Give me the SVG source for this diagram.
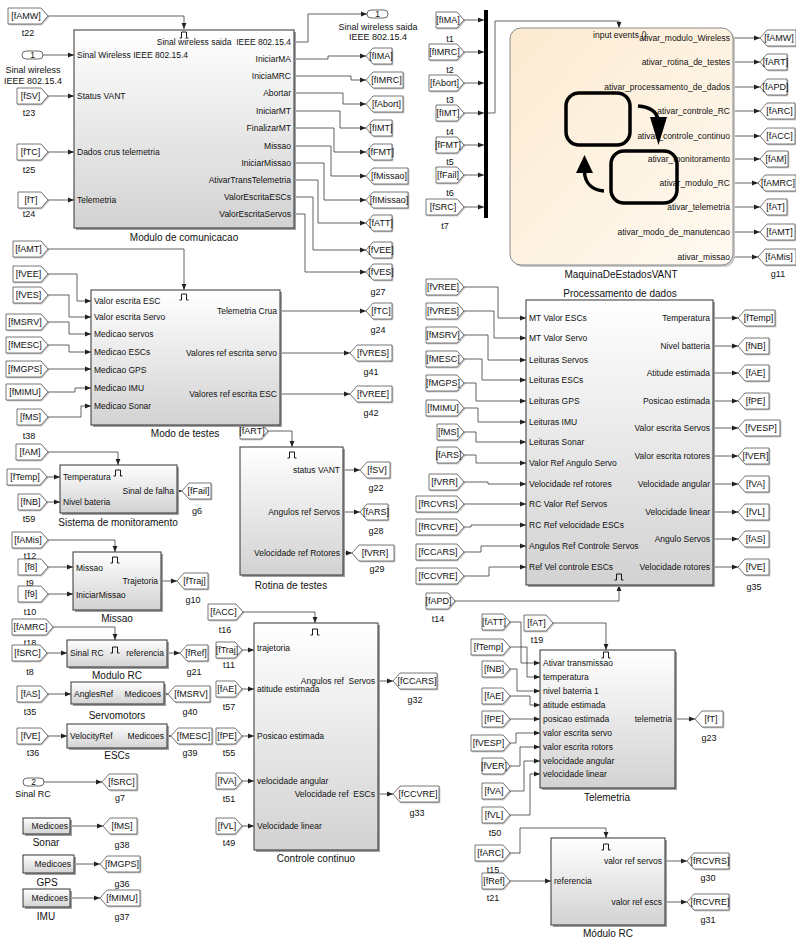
<svg xmlns="http://www.w3.org/2000/svg" width="796" height="939" viewBox="0 0 796 939">
<defs>
<linearGradient id="gb" x1="0" y1="0" x2="0" y2="1"><stop offset="0" stop-color="#ffffff"/><stop offset="1" stop-color="#d2d2d2"/></linearGradient>
<linearGradient id="gs" x1="0" y1="0" x2="1" y2="1"><stop offset="0" stop-color="#fcead0"/><stop offset="1" stop-color="#fffaf2"/></linearGradient>
<marker id="a" viewBox="0 0 6 6" refX="6" refY="3" markerWidth="6" markerHeight="6" markerUnits="userSpaceOnUse" orient="auto"><path d="M0,0.6 L6,3 L0,5.4z" fill="#222"/></marker>
<path id="trg" d="M-4.5,3 h2 v-6 h5 v6 h2" fill="none" stroke="#000" stroke-width="0.9"/>
</defs>
<style>
text{font-family:"Liberation Sans",Arial,sans-serif;dominant-baseline:central;fill:#111}
.pl{font-size:8.5px}
.pr{font-size:8.5px;text-anchor:end}
.tt{font-size:10px;text-anchor:middle}
.tg{font-size:9px;text-anchor:middle}
.lb{font-size:9px;text-anchor:middle}
.blk{fill:url(#gb);stroke:#333;stroke-width:1}
.sh{fill:#a0a0a0}
.tag{fill:#fff;stroke:#555;stroke-width:0.8;filter:drop-shadow(1px 1px 0px #c4c4c4)}
.prt{fill:#fff;stroke:#444;stroke-width:0.8}
.w{fill:none;stroke:#3a3a3a;stroke-width:0.8;marker-end:url(#a)}
.ic{fill:none;stroke:#000;stroke-width:3.5}
</style>

<!-- ============ FROM TAGS LEFT COLUMN ============ -->
<g id="from_fAMW_t22"><polygon class="tag" points="8,8 41,8 48,16 41,24 8,24"/><text class="tg" x="26" y="16">[fAMW]</text><text class="lb" x="28" y="33">t22</text></g>
<g id="inport_1"><rect class="prt" x="22" y="51" width="21" height="8" rx="4"/><text class="pl" x="32.5" y="55" text-anchor="middle">1</text><text class="lb" x="33" y="70">Sinal wireless</text><text class="lb" x="33" y="81">IEEE 802.15.4</text></g>
<g id="from_fSV_t23"><polygon class="tag" points="17,88 41,88 48,96 41,104 17,104"/><text class="tg" x="30.5" y="96">[fSV]</text><text class="lb" x="29" y="113">t23</text></g>
<g id="from_fTC_t25"><polygon class="tag" points="17,144 41,144 48,152 41,160 17,160"/><text class="tg" x="30.5" y="152">[fTC]</text><text class="lb" x="29" y="170">t25</text></g>
<g id="from_fT_t24"><polygon class="tag" points="18,192 41,192 48,200 41,208 18,208"/><text class="tg" x="31" y="200">[fT]</text><text class="lb" x="29" y="214">t24</text></g>

<g id="from_fAMT"><polygon class="tag" points="13,241 41,241 48,249 41,257 13,257"/><text class="tg" x="28.5" y="249">[fAMT]</text></g>
<g id="from_fVEE"><polygon class="tag" points="13,266 41,266 48,274 41,282 13,282"/><text class="tg" x="28.5" y="274">[fVEE]</text></g>
<g id="from_fVES"><polygon class="tag" points="13,287 41,287 48,295 41,303 13,303"/><text class="tg" x="28.5" y="295">[fVES]</text></g>
<g id="from_fMSRV"><polygon class="tag" points="6,314 41,314 48,322 41,330 6,330"/><text class="tg" x="25" y="322">[fMSRV]</text></g>
<g id="from_fMESC"><polygon class="tag" points="6,337 41,337 48,345 41,353 6,353"/><text class="tg" x="25" y="345">[fMESC]</text></g>
<g id="from_fMGPS"><polygon class="tag" points="6,361 41,361 48,369 41,377 6,377"/><text class="tg" x="25" y="369">[fMGPS]</text></g>
<g id="from_fMIMU"><polygon class="tag" points="6,384 41,384 48,392 41,400 6,400"/><text class="tg" x="25" y="392">[fMIMU]</text></g>
<g id="from_fMS_t38"><polygon class="tag" points="17,409 41,409 48,417 41,425 17,425"/><text class="tg" x="30.5" y="417">[fMS]</text><text class="lb" x="29" y="436">t38</text></g>
<g id="from_fAM"><polygon class="tag" points="16,444 41,444 48,452 41,460 16,460"/><text class="tg" x="30" y="452">[fAM]</text></g>
<g id="from_fTemp"><polygon class="tag" points="7,469 40,469 47,477 40,485 7,485"/><text class="tg" x="25" y="477">[fTemp]</text></g>
<g id="from_fNB_t59"><polygon class="tag" points="18,494 40,494 47,502 40,510 18,510"/><text class="tg" x="30.5" y="502">[fNB]</text><text class="lb" x="29" y="519">t59</text></g>
<g id="from_fAMis_t12"><polygon class="tag" points="12,532 41,532 48,540 41,548 12,548"/><text class="tg" x="28" y="540">[fAMis]</text><text class="lb" x="30" y="556">t12</text></g>
<g id="from_f8_t9"><polygon class="tag" points="18,559 41,559 48,567 41,575 18,575"/><text class="tg" x="31" y="567">[f8]</text><text class="lb" x="30" y="583">t9</text></g>
<g id="from_f9_t10"><polygon class="tag" points="18,586 41,586 48,594 41,602 18,602"/><text class="tg" x="31" y="594">[f9]</text><text class="lb" x="30" y="612">t10</text></g>
<g id="from_fAMRC_t18"><polygon class="tag" points="12,619 46,619 53,627 46,635 12,635"/><text class="tg" x="30.5" y="627">[fAMRC]</text><text class="lb" x="30" y="643">t18</text></g>
<g id="from_fSRC_t8"><polygon class="tag" points="12,645 40,645 47,653 40,661 12,661"/><text class="tg" x="27.5" y="653">[fSRC]</text><text class="lb" x="30" y="672">t8</text></g>
<g id="from_fAS_t35"><polygon class="tag" points="17,686 41,686 48,694 41,702 17,702"/><text class="tg" x="30.5" y="694">[fAS]</text><text class="lb" x="30" y="712">t35</text></g>
<g id="from_fVE_t36"><polygon class="tag" points="17,728 41,728 48,736 41,744 17,744"/><text class="tg" x="30.5" y="736">[fVE]</text><text class="lb" x="33" y="753">t36</text></g>
<g id="inport_2"><rect class="prt" x="23" y="778" width="21" height="8" rx="4"/><text class="pl" x="33.5" y="782" text-anchor="middle">2</text><text class="lb" x="33" y="794">Sinal RC</text></g>

<!-- ============ MIDDLE FROM TAGS ============ -->
<g id="from_fART"><polygon class="tag" points="240,423 261,423 268,431 261,439 240,439"/><text class="tg" x="252" y="431">[fART]</text></g>
<g id="from_fACC_t16"><polygon class="tag" points="208,604 236,604 243,612 236,620 208,620"/><text class="tg" x="223.5" y="612">[fACC]</text><text class="lb" x="225" y="630">t16</text></g>
<g id="from_fTraj_t11"><polygon class="tag" points="216,642 235,642 242,650 235,658 216,658"/><text class="tg" x="227" y="650">[fTraj]</text><text class="lb" x="229" y="665">t11</text></g>
<g id="from_fAE_t57"><polygon class="tag" points="216,681 235,681 242,689 235,697 216,697"/><text class="tg" x="227" y="689">[fAE]</text><text class="lb" x="229" y="707">t57</text></g>
<g id="from_fPE_t55"><polygon class="tag" points="216,728 235,728 242,736 235,744 216,744"/><text class="tg" x="227" y="736">[fPE]</text><text class="lb" x="229" y="753">t55</text></g>
<g id="from_fVA_t51"><polygon class="tag" points="216,773 235,773 242,781 235,789 216,789"/><text class="tg" x="227" y="781">[fVA]</text><text class="lb" x="229" y="799">t51</text></g>
<g id="from_fVL_t49"><polygon class="tag" points="216,818 235,818 242,826 235,834 216,834"/><text class="tg" x="227" y="826">[fVL]</text><text class="lb" x="229" y="843">t49</text></g>

<!-- ============ MUX FROM TAGS ============ -->
<g id="from_fIMA_t1"><polygon class="tag" points="436,12 457,12 464,20 457,28 436,28"/><text class="tg" x="448" y="20">[fIMA]</text><text class="lb" x="450" y="39">t1</text></g>
<g id="from_fIMRC_t2"><polygon class="tag" points="429,44 457,44 464,52 457,60 429,60"/><text class="tg" x="444.5" y="52">[fIMRC]</text><text class="lb" x="450" y="70">t2</text></g>
<g id="from_fAbort_t3"><polygon class="tag" points="429,75 457,75 464,83 457,91 429,91"/><text class="tg" x="444.5" y="83">[fAbort]</text><text class="lb" x="450" y="100">t3</text></g>
<g id="from_fIMT_t4"><polygon class="tag" points="436,105 457,105 464,113 457,121 436,121"/><text class="tg" x="448" y="113">[fIMT]</text><text class="lb" x="450" y="132">t4</text></g>
<g id="from_fFMT_t5"><polygon class="tag" points="436,137 457,137 464,145 457,153 436,153"/><text class="tg" x="448" y="145">[fFMT]</text><text class="lb" x="450" y="162">t5</text></g>
<g id="from_fFail_t6"><polygon class="tag" points="436,167 457,167 464,175 457,183 436,183"/><text class="tg" x="448" y="175">[fFail]</text><text class="lb" x="450" y="193">t6</text></g>
<g id="from_fSRC_t7"><polygon class="tag" points="426,199 457,199 464,207 457,215 426,215"/><text class="tg" x="443" y="207">[fSRC]</text><text class="lb" x="445" y="226">t7</text></g>
<g id="mux"><rect x="484" y="10" width="4" height="208" fill="#000"/></g>

<!-- ============ PROC FROM TAGS ============ -->
<g id="from_fVREE_p"><polygon class="tag" points="426,279 457,279 464,287 457,295 426,295"/><text class="tg" x="443" y="287">[fVREE]</text></g>
<g id="from_fVRES_p"><polygon class="tag" points="426,303 457,303 464,311 457,319 426,319"/><text class="tg" x="443" y="311">[fVRES]</text></g>
<g id="from_fMSRV_p"><polygon class="tag" points="426,327 457,327 464,335 457,343 426,343"/><text class="tg" x="443" y="335">[fMSRV]</text></g>
<g id="from_fMESC_p"><polygon class="tag" points="426,351 457,351 464,359 457,367 426,367"/><text class="tg" x="443" y="359">[fMESC]</text></g>
<g id="from_fMGPS_p"><polygon class="tag" points="426,375 457,375 464,383 457,391 426,391"/><text class="tg" x="443" y="383">[fMGPS]</text></g>
<g id="from_fMIMU_p"><polygon class="tag" points="426,400 457,400 464,408 457,416 426,416"/><text class="tg" x="443" y="408">[fMIMU]</text></g>
<g id="from_fMS_p"><polygon class="tag" points="437,424 457,424 464,432 457,440 437,440"/><text class="tg" x="448.5" y="432">[fMS]</text></g>
<g id="from_fARS_p"><polygon class="tag" points="437,447 457,447 464,455 457,463 437,463"/><text class="tg" x="448.5" y="455">[fARS]</text></g>
<g id="from_fVRR_p"><polygon class="tag" points="429,474 457,474 464,482 457,490 429,490"/><text class="tg" x="444.5" y="482">[fVRR]</text></g>
<g id="from_fRCVRS_p"><polygon class="tag" points="416,496 457,496 464,504 457,512 416,512"/><text class="tg" x="438" y="504">[fRCVRS]</text></g>
<g id="from_fRCVRE_p"><polygon class="tag" points="416,519 457,519 464,527 457,535 416,535"/><text class="tg" x="438" y="527">[fRCVRE]</text></g>
<g id="from_fCCARS_p"><polygon class="tag" points="416,544 457,544 464,552 457,560 416,560"/><text class="tg" x="438" y="552">[fCCARS]</text></g>
<g id="from_fCCVRE_p"><polygon class="tag" points="416,568 457,568 464,576 457,584 416,584"/><text class="tg" x="438" y="576">[fCCVRE]</text></g>
<g id="from_fAPD_t14"><polygon class="tag" points="426,593 448,593 455,601 448,609 426,609"/><text class="tg" x="438.5" y="601">[fAPD]</text><text class="lb" x="438" y="619">t14</text></g>

<!-- ============ TELEMETRIA FROM TAGS ============ -->
<g id="from_fAT_t19"><polygon class="tag" points="524,615 546,615 553,623 546,631 524,631"/><text class="tg" x="536.5" y="623">[fAT]</text><text class="lb" x="537" y="640">t19</text></g>
<g id="from_fATT_tl"><polygon class="tag" points="482,614 503,614 510,622 503,630 482,630"/><text class="tg" x="494" y="622">[fATT]</text></g>
<g id="from_fTemp_tl"><polygon class="tag" points="471,639 503,639 510,647 503,655 471,655"/><text class="tg" x="488.5" y="647">[fTemp]</text></g>
<g id="from_fNB_tl"><polygon class="tag" points="482,661 503,661 510,669 503,677 482,677"/><text class="tg" x="494" y="669">[fNB]</text></g>
<g id="from_fAE_tl"><polygon class="tag" points="482,688 503,688 510,696 503,704 482,704"/><text class="tg" x="494" y="696">[fAE]</text></g>
<g id="from_fPE_tl"><polygon class="tag" points="482,711 503,711 510,719 503,727 482,727"/><text class="tg" x="494" y="719">[fPE]</text></g>
<g id="from_fVESP_tl"><polygon class="tag" points="471,735 503,735 510,743 503,751 471,751"/><text class="tg" x="488.5" y="743">[fVESP]</text></g>
<g id="from_fVER_tl"><polygon class="tag" points="482,758 503,758 510,766 503,774 482,774"/><text class="tg" x="494" y="766">[fVER]</text></g>
<g id="from_fVA_tl"><polygon class="tag" points="482,783 503,783 510,791 503,799 482,799"/><text class="tg" x="494" y="791">[fVA]</text></g>
<g id="from_fVL_t50"><polygon class="tag" points="482,807 503,807 510,815 503,823 482,823"/><text class="tg" x="494" y="815">[fVL]</text><text class="lb" x="495" y="833">t50</text></g>
<g id="from_fARC_t15"><polygon class="tag" points="475,845 503,845 510,853 503,861 475,861"/><text class="tg" x="490.5" y="853">[fARC]</text><text class="lb" x="493" y="870">t15</text></g>
<g id="from_fRef_t21"><polygon class="tag" points="482,873 503,873 510,881 503,889 482,889"/><text class="tg" x="494" y="881">[fRef]</text><text class="lb" x="493" y="898">t21</text></g>

<!-- ============ GOTO TAGS ============ -->
<g id="outport_1"><rect class="prt" x="367" y="10" width="21" height="8" rx="4"/><text class="pl" x="377.5" y="14" text-anchor="middle">1</text><text class="lb" x="378" y="27">Sinal wireless saida</text><text class="lb" x="378" y="37">IEEE 802.15.4</text></g>
<g id="goto_fIMA"><polygon class="tag" points="366,56 373,48 392,48 392,64 373,64"/><text class="tg" x="381" y="56">[fIMA]</text></g>
<g id="goto_fIMRC"><polygon class="tag" points="366,80 373,72 403,72 403,88 373,88"/><text class="tg" x="386.5" y="80">[fIMRC]</text></g>
<g id="goto_fAbort"><polygon class="tag" points="366,104 373,96 403,96 403,112 373,112"/><text class="tg" x="386.5" y="104">[fAbort]</text></g>
<g id="goto_fIMT"><polygon class="tag" points="366,128 373,120 392,120 392,136 373,136"/><text class="tg" x="381" y="128">[fIMT]</text></g>
<g id="goto_fFMT"><polygon class="tag" points="366,152 373,144 392,144 392,160 373,160"/><text class="tg" x="381" y="152">[fFMT]</text></g>
<g id="goto_fMissao"><polygon class="tag" points="366,176 373,168 408,168 408,184 373,184"/><text class="tg" x="389" y="176">[fMissao]</text></g>
<g id="goto_fIMissao"><polygon class="tag" points="366,200 373,192 408,192 408,208 373,208"/><text class="tg" x="389" y="200">[fIMissao]</text></g>
<g id="goto_fATT"><polygon class="tag" points="366,223 373,215 392,215 392,231 373,231"/><text class="tg" x="381" y="223">[fATT]</text></g>
<g id="goto_fVEE"><polygon class="tag" points="366,250 373,242 392,242 392,258 373,258"/><text class="tg" x="381" y="250">[fVEE]</text></g>
<g id="goto_fVES_g27"><polygon class="tag" points="366,272 373,264 392,264 392,280 373,280"/><text class="tg" x="381" y="272">[fVES]</text><text class="lb" x="378" y="292">g27</text></g>
<g id="goto_fTC_g24"><polygon class="tag" points="366,311 373,303 392,303 392,319 373,319"/><text class="tg" x="381" y="311">[fTC]</text><text class="lb" x="378" y="330">g24</text></g>
<g id="goto_fVRES_g41"><polygon class="tag" points="350,353 357,345 392,345 392,361 357,361"/><text class="tg" x="373" y="353">[fVRES]</text><text class="lb" x="371" y="372">g41</text></g>
<g id="goto_fVREE_g42"><polygon class="tag" points="350,394 357,386 392,386 392,402 357,402"/><text class="tg" x="373" y="394">[fVREE]</text><text class="lb" x="371" y="413">g42</text></g>
<g id="goto_fSV_g22"><polygon class="tag" points="360,470 367,462 390,462 390,478 367,478"/><text class="tg" x="377" y="470">[fSV]</text><text class="lb" x="376" y="488">g22</text></g>
<g id="goto_fARS_g28"><polygon class="tag" points="360,512 367,504 388,504 388,520 367,520"/><text class="tg" x="376" y="512">[fARS]</text><text class="lb" x="376" y="531">g28</text></g>
<g id="goto_fVRR_g29"><polygon class="tag" points="352,553 359,545 394,545 394,561 359,561"/><text class="tg" x="375" y="553">[fVRR]</text><text class="lb" x="377" y="569">g29</text></g>

<g id="goto_fAMW"><polygon class="tag" points="760,38 767,30 796,30 796,46 767,46"/><text class="tg" x="779" y="38">[fAMW]</text></g>
<g id="goto_fART"><polygon class="tag" points="760,62 767,54 787,54 787,70 767,70"/><text class="tg" x="775.5" y="62">[fART]</text></g>
<g id="goto_fAPD"><polygon class="tag" points="760,87 767,79 787,79 787,95 767,95"/><text class="tg" x="775.5" y="87">[fAPD]</text></g>
<g id="goto_fARC"><polygon class="tag" points="760,111 767,103 795,103 795,119 767,119"/><text class="tg" x="779.5" y="111">[fARC]</text></g>
<g id="goto_fACC"><polygon class="tag" points="760,136 767,128 795,128 795,144 767,144"/><text class="tg" x="779.5" y="136">[fACC]</text></g>
<g id="goto_fAM"><polygon class="tag" points="760,159 767,151 788,151 788,167 767,167"/><text class="tg" x="776" y="159">[fAM]</text></g>
<g id="goto_fAMRC"><polygon class="tag" points="758,183 765,175 796,175 796,191 765,191"/><text class="tg" x="778" y="183">[fAMRC]</text></g>
<g id="goto_fAT"><polygon class="tag" points="760,207 767,199 787,199 787,215 767,215"/><text class="tg" x="775.5" y="207">[fAT]</text></g>
<g id="goto_fAMT"><polygon class="tag" points="760,232 767,224 795,224 795,240 767,240"/><text class="tg" x="779.5" y="232">[fAMT]</text></g>
<g id="goto_fAMis_g11"><polygon class="tag" points="758,257 765,249 796,249 796,265 765,265"/><text class="tg" x="779" y="257">[fAMis]</text><text class="lb" x="778" y="274">g11</text></g>

<g id="goto_fTemp"><polygon class="tag" points="738,318 745,310 775,310 775,326 745,326"/><text class="tg" x="758.5" y="318">[fTemp]</text></g>
<g id="goto_fNB"><polygon class="tag" points="738,346 745,338 769,338 769,354 745,354"/><text class="tg" x="755.5" y="346">[fNB]</text></g>
<g id="goto_fAE"><polygon class="tag" points="738,373 745,365 769,365 769,381 745,381"/><text class="tg" x="755.5" y="373">[fAE]</text></g>
<g id="goto_fPE"><polygon class="tag" points="738,401 745,393 769,393 769,409 745,409"/><text class="tg" x="755.5" y="401">[fPE]</text></g>
<g id="goto_fVESP"><polygon class="tag" points="738,428 745,420 780,420 780,436 745,436"/><text class="tg" x="761" y="428">[fVESP]</text></g>
<g id="goto_fVER"><polygon class="tag" points="738,456 745,448 769,448 769,464 745,464"/><text class="tg" x="755.5" y="456">[fVER]</text></g>
<g id="goto_fVA"><polygon class="tag" points="738,484 745,476 769,476 769,492 745,492"/><text class="tg" x="755.5" y="484">[fVA]</text></g>
<g id="goto_fVL"><polygon class="tag" points="738,512 745,504 769,504 769,520 745,520"/><text class="tg" x="755.5" y="512">[fVL]</text></g>
<g id="goto_fAS"><polygon class="tag" points="738,539 745,531 769,531 769,547 745,547"/><text class="tg" x="755.5" y="539">[fAS]</text></g>
<g id="goto_fVE_g35"><polygon class="tag" points="738,567 745,559 769,559 769,575 745,575"/><text class="tg" x="755.5" y="567">[fVE]</text><text class="lb" x="754" y="587">g35</text></g>

<g id="goto_fFail_g6"><polygon class="tag" points="182,491 189,483 211,483 211,499 189,499"/><text class="tg" x="198.5" y="491">[fFail]</text><text class="lb" x="197" y="511">g6</text></g>
<g id="goto_fTraj_g10"><polygon class="tag" points="177,581 184,573 208,573 208,589 184,589"/><text class="tg" x="194.5" y="581">[fTraj]</text><text class="lb" x="193" y="600">g10</text></g>
<g id="goto_fRef_g21"><polygon class="tag" points="180,653 187,645 208,645 208,661 187,661"/><text class="tg" x="196" y="653">[fRef]</text><text class="lb" x="194" y="672">g21</text></g>
<g id="goto_fMSRV_g40"><polygon class="tag" points="168,694 175,686 210,686 210,702 175,702"/><text class="tg" x="191" y="694">[fMSRV]</text><text class="lb" x="190" y="712">g40</text></g>
<g id="goto_fMESC_g39"><polygon class="tag" points="171,736 178,728 212,728 212,744 178,744"/><text class="tg" x="193.5" y="736">[fMESC]</text><text class="lb" x="190" y="753">g39</text></g>
<g id="goto_fSRC_g7"><polygon class="tag" points="102,782 109,774 137,774 137,790 109,790"/><text class="tg" x="121.5" y="782">[fSRC]</text><text class="lb" x="120" y="798">g7</text></g>
<g id="goto_fMS_g38"><polygon class="tag" points="103,826 110,818 137,818 137,834 110,834"/><text class="tg" x="122" y="826">[fMS]</text><text class="lb" x="122" y="845">g38</text></g>
<g id="goto_fMGPS_g36"><polygon class="tag" points="100,864 107,856 140,856 140,872 107,872"/><text class="tg" x="122" y="864">[fMGPS]</text><text class="lb" x="122" y="884">g36</text></g>
<g id="goto_fMIMU_g37"><polygon class="tag" points="100,898 107,890 140,890 140,906 107,906"/><text class="tg" x="122" y="898">[fMIMU]</text><text class="lb" x="122" y="917">g37</text></g>
<g id="goto_fCCARS_g32"><polygon class="tag" points="393,681 400,673 437,673 437,689 400,689"/><text class="tg" x="417" y="681">[fCCARS]</text><text class="lb" x="415" y="700">g32</text></g>
<g id="goto_fCCVRE_g33"><polygon class="tag" points="393,794 400,786 439,786 439,802 400,802"/><text class="tg" x="418" y="794">[fCCVRE]</text><text class="lb" x="417" y="813">g33</text></g>
<g id="goto_fT_g23"><polygon class="tag" points="695,719 702,711 723,711 723,727 702,727"/><text class="tg" x="711" y="719">[fT]</text><text class="lb" x="709" y="738">g23</text></g>
<g id="goto_fRCVRS_g30"><polygon class="tag" points="687,861 694,853 729,853 729,869 694,869"/><text class="tg" x="710" y="861">[fRCVRS]</text><text class="lb" x="708" y="878">g30</text></g>
<g id="goto_fRCVRE_g31"><polygon class="tag" points="687,902 694,894 729,894 729,910 694,910"/><text class="tg" x="710" y="902">[fRCVRE]</text><text class="lb" x="708" y="920">g31</text></g>

<!-- ============ CONNECTORS ============ -->
<g id="connectors">
<path class="w" d="M48,16 H184 V29"/>
<path class="w" d="M43,55 H74"/>
<path class="w" d="M48,96 H74"/>
<path class="w" d="M48,152 H74"/>
<path class="w" d="M48,200 H74"/>
<path class="w" d="M294,42 H308 V14 H367"/>
<path class="w" d="M294,59 H328 V56 H366"/>
<path class="w" d="M294,76 H351 V80 H366"/>
<path class="w" d="M294,93 H343 V104 H366"/>
<path class="w" d="M294,111 H340 V128 H366"/>
<path class="w" d="M294,128 H334 V152 H366"/>
<path class="w" d="M294,146 H331 V176 H366"/>
<path class="w" d="M294,163 H324 V200 H366"/>
<path class="w" d="M294,180 H318 V223 H366"/>
<path class="w" d="M294,197 H313 V250 H366"/>
<path class="w" d="M294,214 H305 V272 H366"/>
<path class="w" d="M464,20 H484"/>
<path class="w" d="M464,52 H484"/>
<path class="w" d="M464,83 H484"/>
<path class="w" d="M464,113 H484"/>
<path class="w" d="M464,145 H484"/>
<path class="w" d="M464,175 H484"/>
<path class="w" d="M464,207 H484"/>
<path class="w" d="M488,113 H495 V21 H619 V28"/>
<path class="w" d="M733,38 H760"/>
<path class="w" d="M733,62 H760"/>
<path class="w" d="M733,87 H760"/>
<path class="w" d="M733,111 H760"/>
<path class="w" d="M733,136 H760"/>
<path class="w" d="M733,159 H760"/>
<path class="w" d="M733,183 H758"/>
<path class="w" d="M733,207 H760"/>
<path class="w" d="M733,232 H760"/>
<path class="w" d="M733,257 H758"/>
<path class="w" d="M48,249 H184 V290"/>
<path class="w" d="M48,274 H77 V301 H91"/>
<path class="w" d="M48,295 H69 V317 H91"/>
<path class="w" d="M48,322 H69 V334 H91"/>
<path class="w" d="M48,345 H69 V352 H91"/>
<path class="w" d="M48,369 H91"/>
<path class="w" d="M48,392 H75 V388 H91"/>
<path class="w" d="M48,417 H81 V406 H91"/>
<path class="w" d="M280,311 H366"/>
<path class="w" d="M280,353 H350"/>
<path class="w" d="M280,394 H350"/>
<path class="w" d="M268,431 H292 V447"/>
<path class="w" d="M343,470 H360"/>
<path class="w" d="M343,512 H360"/>
<path class="w" d="M343,553 H352"/>
<path class="w" d="M464,287 H498 V318 H526"/>
<path class="w" d="M464,311 H494 V338 H526"/>
<path class="w" d="M464,335 H488 V360 H526"/>
<path class="w" d="M464,359 H482 V380 H526"/>
<path class="w" d="M464,383 H476 V401 H526"/>
<path class="w" d="M464,408 H478 V422 H526"/>
<path class="w" d="M464,432 H476 V442 H526"/>
<path class="w" d="M464,455 H476 V463 H526"/>
<path class="w" d="M464,482 H488 V484 H526"/>
<path class="w" d="M464,504 H526"/>
<path class="w" d="M464,527 H471 V525 H526"/>
<path class="w" d="M464,552 H481 V546 H526"/>
<path class="w" d="M464,576 H489 V567 H526"/>
<path class="w" d="M455,601 H619 V585"/>
<path class="w" d="M713,318 H738"/>
<path class="w" d="M713,346 H738"/>
<path class="w" d="M713,373 H738"/>
<path class="w" d="M713,401 H738"/>
<path class="w" d="M713,428 H738"/>
<path class="w" d="M713,456 H738"/>
<path class="w" d="M713,484 H738"/>
<path class="w" d="M713,512 H738"/>
<path class="w" d="M713,539 H738"/>
<path class="w" d="M713,567 H738"/>
<path class="w" d="M48,452 H118 V465"/>
<path class="w" d="M47,477 H60"/>
<path class="w" d="M47,502 H60"/>
<path class="w" d="M177,491 H182"/>
<path class="w" d="M48,540 H115 V552"/>
<path class="w" d="M48,567 H73"/>
<path class="w" d="M48,594 H73"/>
<path class="w" d="M161,581 H177"/>
<path class="w" d="M53,627 H115 V640"/>
<path class="w" d="M47,653 H67"/>
<path class="w" d="M167,653 H180"/>
<path class="w" d="M48,694 H71"/>
<path class="w" d="M164,694 H168"/>
<path class="w" d="M48,736 H67"/>
<path class="w" d="M167,736 H171"/>
<path class="w" d="M44,782 H102"/>
<path class="w" d="M70,826 H103"/>
<path class="w" d="M74,864 H100"/>
<path class="w" d="M70,898 H100"/>
<path class="w" d="M243,612 H315 V623"/>
<path class="w" d="M242,650 H254"/>
<path class="w" d="M242,689 H254"/>
<path class="w" d="M242,736 H254"/>
<path class="w" d="M242,781 H254"/>
<path class="w" d="M242,826 H254"/>
<path class="w" d="M378,681 H393"/>
<path class="w" d="M378,794 H393"/>
<path class="w" d="M553,623 H606 V650"/>
<path class="w" d="M510,622 H521 V663 H540"/>
<path class="w" d="M510,647 H527 V677 H540"/>
<path class="w" d="M510,669 H517 V691 H540"/>
<path class="w" d="M510,696 H530 V705 H540"/>
<path class="w" d="M510,719 H540"/>
<path class="w" d="M510,743 H516 V733 H540"/>
<path class="w" d="M510,766 H520 V747 H540"/>
<path class="w" d="M510,791 H524 V761 H540"/>
<path class="w" d="M510,815 H530 V774 H540"/>
<path class="w" d="M675,719 H695"/>
<path class="w" d="M510,853 H520 V828 H606 V838"/>
<path class="w" d="M510,881 H551"/>
<path class="w" d="M665,861 H687"/>
<path class="w" d="M665,902 H687"/>
</g>

<!-- ============ BLOCKS ============ -->
<g id="modulo_de_comunicacao">
<rect class="sh" x="76" y="32" width="220" height="198"/><rect class="blk" x="74" y="30" width="220" height="198"/>
<use href="#trg" x="184" y="35"/>
<text class="pl" x="77" y="55">Sinal Wireless IEEE 802.15.4</text>
<text class="pl" x="77" y="96">Status VANT</text>
<text class="pl" x="77" y="152">Dados crus telemetria</text>
<text class="pl" x="77" y="200">Telemetria</text>
<text class="pr" x="291" y="42" xml:space="preserve">Sinal wireless saida  IEEE 802.15.4</text>
<text class="pr" x="291" y="59">IniciarMA</text>
<text class="pr" x="291" y="76">IniciaMRC</text>
<text class="pr" x="291" y="93">Abortar</text>
<text class="pr" x="291" y="111">IniciarMT</text>
<text class="pr" x="291" y="128">FinalizarMT</text>
<text class="pr" x="291" y="146">Missao</text>
<text class="pr" x="291" y="163">IniciarMissao</text>
<text class="pr" x="291" y="180">AtivarTransTelemetria</text>
<text class="pr" x="291" y="197">ValorEscritaESCs</text>
<text class="pr" x="291" y="214">ValorEscritaServos</text>
<text class="tt" x="184" y="237">Modulo de comunicacao</text>
</g>

<g id="maquina_de_estados_vant">
<rect x="512" y="30" width="223" height="237" rx="11" fill="#c9c9c9"/>
<rect x="510" y="28" width="223" height="237" rx="11" fill="url(#gs)" stroke="#8a8a8a" stroke-width="1"/>
<text class="pl" x="620" y="35" text-anchor="middle">input events ()</text>
<text class="pr" x="730" y="38">ativar_modulo_Wireless</text>
<text class="pr" x="730" y="62">ativar_rotina_de_testes</text>
<text class="pr" x="730" y="87">ativar_processamento_de_dados</text>
<text class="pr" x="730" y="111">ativar_controle_RC</text>
<text class="pr" x="730" y="136">ativar_controle_continuo</text>
<text class="pr" x="730" y="159">ativar_monitoramento</text>
<text class="pr" x="730" y="183">ativar_modulo_RC</text>
<text class="pr" x="730" y="207">ativar_telemetria</text>
<text class="pr" x="730" y="232">ativar_modo_de_manutencao</text>
<text class="pr" x="730" y="257">ativar_missao</text>
<rect class="ic" x="566" y="93" width="64" height="52" rx="13"/>
<rect class="ic" x="611" y="151" width="66" height="52" rx="13"/>
<path class="ic" d="M638,106 C650,107 657,112 658,120"/>
<polygon points="650,117 667,117 658.5,145" fill="#000"/>
<path class="ic" d="M604,191 C592,190 585,183 584.5,172"/>
<polygon points="576,173 593,173 584.5,155" fill="#000"/>
<text class="tt" x="621" y="274">MaquinaDeEstadosVANT</text>
</g>

<g id="modo_de_testes">
<rect class="sh" x="93" y="292" width="189" height="135"/><rect class="blk" x="91" y="290" width="189" height="135"/>
<use href="#trg" x="184" y="297"/>
<text class="pl" x="94" y="301">Valor escrita ESC</text>
<text class="pl" x="94" y="317">Valor escrita Servo</text>
<text class="pl" x="94" y="334">Medicao servos</text>
<text class="pl" x="94" y="352">Medicao ESCs</text>
<text class="pl" x="94" y="370">Medicao GPS</text>
<text class="pl" x="94" y="388">Medicao IMU</text>
<text class="pl" x="94" y="406">Medicao Sonar</text>
<text class="pr" x="277" y="311">Telemetria Crua</text>
<text class="pr" x="277" y="353">Valores ref escrita servo</text>
<text class="pr" x="277" y="394">Valores ref escrita ESC</text>
<text class="tt" x="185" y="433">Modo de testes</text>
</g>

<g id="rotina_de_testes">
<rect class="sh" x="242" y="449" width="103" height="128"/><rect class="blk" x="240" y="447" width="103" height="128"/>
<use href="#trg" x="292" y="455"/>
<text class="pr" x="340" y="470">status VANT</text>
<text class="pr" x="340" y="512">Angulos ref Servos</text>
<text class="pr" x="340" y="553">Velocidade ref Rotores</text>
<text class="tt" x="291" y="585">Rotina de testes</text>
</g>

<g id="processamento_de_dados">
<text class="tt" x="620" y="293">Processamento de dados</text>
<rect class="sh" x="528" y="302" width="187" height="285"/><rect class="blk" x="526" y="300" width="187" height="285"/>
<text class="pl" x="529" y="318">MT Valor ESCs</text>
<text class="pl" x="529" y="338">MT Valor Servo</text>
<text class="pl" x="529" y="360">Leituras Servos</text>
<text class="pl" x="529" y="380">Leituras ESCs</text>
<text class="pl" x="529" y="401">Leituras GPS</text>
<text class="pl" x="529" y="422">Leituras IMU</text>
<text class="pl" x="529" y="442">Leituras Sonar</text>
<text class="pl" x="529" y="463">Valor Ref Angulo Servo</text>
<text class="pl" x="529" y="484">Velocidade ref rotores</text>
<text class="pl" x="529" y="504">RC Valor Ref Servos</text>
<text class="pl" x="529" y="525">RC Ref velocidade ESCs</text>
<text class="pl" x="529" y="546">Angulos Ref Controle Servos</text>
<text class="pl" x="529" y="567">Ref Vel controle ESCs</text>
<text class="pr" x="710" y="318">Temperatura</text>
<text class="pr" x="710" y="346">Nivel batteria</text>
<text class="pr" x="710" y="373">Atitude estimada</text>
<text class="pr" x="710" y="401">Posicao estimada</text>
<text class="pr" x="710" y="428">Valor escrita Servos</text>
<text class="pr" x="710" y="456">Valor escrita rotores</text>
<text class="pr" x="710" y="484">Velocidade angular</text>
<text class="pr" x="710" y="512">Velocidade linear</text>
<text class="pr" x="710" y="539">Angulo Servos</text>
<text class="pr" x="710" y="567">Velocidade rotores</text>
<use href="#trg" x="619" y="577"/>
</g>

<g id="sistema_de_monitoramento">
<rect class="sh" x="62" y="467" width="117" height="48"/><rect class="blk" x="60" y="465" width="117" height="48"/>
<use href="#trg" x="118" y="473"/>
<text class="pl" x="63" y="477">Temperatura</text>
<text class="pl" x="63" y="502">Nivel bateria</text>
<text class="pr" x="174" y="491">Sinal de falha</text>
<text class="tt" x="118" y="522">Sistema de monitoramento</text>
</g>

<g id="missao">
<rect class="sh" x="75" y="554" width="88" height="58"/><rect class="blk" x="73" y="552" width="88" height="58"/>
<use href="#trg" x="115" y="560"/>
<text class="pl" x="76" y="568">Missao</text>
<text class="pl" x="76" y="595">IniciarMissao</text>
<text class="pr" x="158" y="581">Trajetoria</text>
<text class="tt" x="117" y="618">Missao</text>
</g>

<g id="modulo_rc_left">
<rect class="sh" x="69" y="642" width="100" height="27"/><rect class="blk" x="67" y="640" width="100" height="27"/>
<use href="#trg" x="115" y="650"/>
<text class="pl" x="70" y="653">Sinal RC</text>
<text class="pr" x="164" y="653">referencia</text>
<text class="tt" x="117" y="675">Modulo RC</text>
</g>

<g id="servomotors">
<rect class="sh" x="73" y="684" width="93" height="22"/><rect class="blk" x="71" y="682" width="93" height="22"/>
<text class="pl" x="74" y="694">AnglesRef</text>
<text class="pr" x="161" y="694">Medicoes</text>
<text class="tt" x="117" y="715">Servomotors</text>
</g>

<g id="escs">
<rect class="sh" x="69" y="726" width="100" height="24"/><rect class="blk" x="67" y="724" width="100" height="24"/>
<text class="pl" x="70" y="736">VelocityRef</text>
<text class="pr" x="164" y="736">Medicoes</text>
<text class="tt" x="117" y="755">ESCs</text>
</g>

<g id="sonar">
<rect class="sh" x="25" y="820" width="47" height="16"/><rect class="blk" x="23" y="818" width="47" height="16"/>
<text class="pr" x="68" y="826">Medicoes</text>
<text class="tt" x="46" y="842">Sonar</text>
</g>
<g id="gps">
<rect class="sh" x="25" y="857" width="51" height="18"/><rect class="blk" x="23" y="855" width="51" height="18"/>
<text class="pr" x="71" y="864">Medicoes</text>
<text class="tt" x="47" y="882">GPS</text>
</g>
<g id="imu">
<rect class="sh" x="25" y="891" width="47" height="18"/><rect class="blk" x="23" y="889" width="47" height="18"/>
<text class="pr" x="68" y="898">Medicoes</text>
<text class="tt" x="46" y="916">IMU</text>
</g>

<g id="controle_continuo">
<rect class="sh" x="256" y="625" width="124" height="227"/><rect class="blk" x="254" y="623" width="124" height="227"/>
<use href="#trg" x="315" y="632"/>
<text class="pl" x="257" y="648">trajetoria</text>
<text class="pl" x="257" y="689">atitude estimada</text>
<text class="pl" x="257" y="736">Posicao estimada</text>
<text class="pl" x="257" y="781">velocidade angular</text>
<text class="pl" x="257" y="826">Velocidade linear</text>
<text class="pr" x="375" y="681" xml:space="preserve">Angulos ref  Servos</text>
<text class="pr" x="375" y="794" xml:space="preserve">Velocidade ref  ESCs</text>
<text class="tt" x="316" y="858">Controle continuo</text>
</g>

<g id="telemetria">
<rect class="sh" x="542" y="652" width="135" height="138"/><rect class="blk" x="540" y="650" width="135" height="138"/>
<use href="#trg" x="606" y="655"/>
<text class="pl" x="543" y="663">Ativar transmissao</text>
<text class="pl" x="543" y="677">temperatura</text>
<text class="pl" x="543" y="691">nivel baterria 1</text>
<text class="pl" x="543" y="705">atitude estimada</text>
<text class="pl" x="543" y="719">posicao estimada</text>
<text class="pl" x="543" y="733">valor escrita servo</text>
<text class="pl" x="543" y="747">valor escrita rotors</text>
<text class="pl" x="543" y="761">velocidade angular</text>
<text class="pl" x="543" y="774">velocidade linear</text>
<text class="pr" x="672" y="719">telemetria</text>
<text class="tt" x="607" y="797">Telemetria</text>
</g>

<g id="modulo_rc_right">
<rect class="sh" x="553" y="840" width="114" height="87"/><rect class="blk" x="551" y="838" width="114" height="87"/>
<use href="#trg" x="606" y="847"/>
<text class="pl" x="554" y="881">referencia</text>
<text class="pr" x="662" y="861">valor ref servos</text>
<text class="pr" x="662" y="902">valor ref escs</text>
<text class="tt" x="608" y="933">Módulo RC</text>
</g>
</svg>
